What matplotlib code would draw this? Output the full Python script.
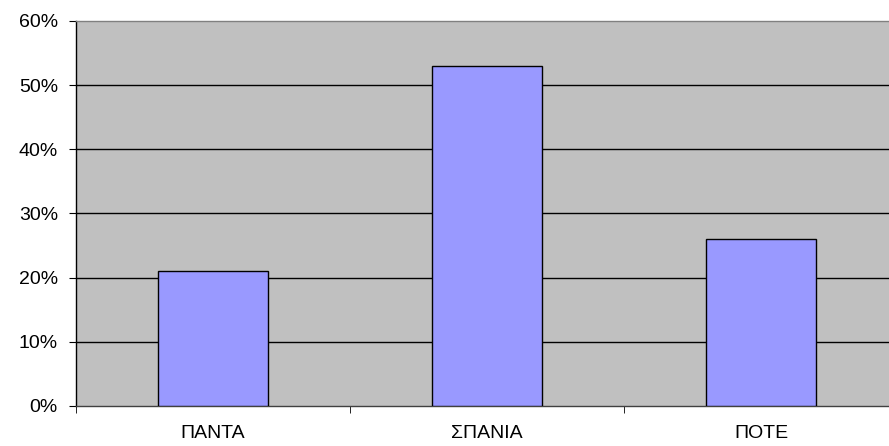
import matplotlib.pyplot as plt
import numpy as np
from matplotlib.ticker import PercentFormatter

plt.rcParams['font.family'] = ['Liberation Sans', 'DejaVu Sans']

categories = ['ΠΑΝΤΑ', 'ΣΠΑΝΙΑ', 'ΠΟΤΕ']
values = [21, 53, 26]
yticks = [0, 10, 20, 30, 40, 50, 60]

fig = plt.figure(figsize=(8.89, 4.46), dpi=100)
ax = fig.add_axes([76 / 889, 40 / 446, 822 / 889, 385 / 446])
ax.set_facecolor('#c0c0c0')

x = np.arange(len(categories))
ax.bar(x, values, width=0.4, color='#9999ff', edgecolor='black', linewidth=1, zorder=3)

ax.set_xlim(-0.5, len(categories) - 0.5)
ax.set_ylim(0, 60)
ax.set_yticks(yticks)
ax.yaxis.set_major_formatter(PercentFormatter(decimals=0))
for t in yticks[1:-1]:
    ax.axhline(t, color='black', linewidth=1, zorder=1)

ax.set_xticks(x)
ax.set_xticklabels(categories)
ax.set_xticks(np.arange(len(categories) + 1) - 0.5, minor=True)
ax.tick_params(axis='x', which='major', length=0, pad=14, labelsize=14)
ax.tick_params(axis='x', which='minor', length=5, color='black', direction='out')
ax.tick_params(axis='y', length=5, color='black', labelsize=14, pad=8)

ax.spines['right'].set_visible(False)
ax.spines['top'].set_color('#808080')
ax.spines['bottom'].set_color('#404040')
ax.spines['left'].set_color('black')
for s in ax.spines.values():
    s.set_linewidth(1)

fig.savefig('out.png', dpi=100)
